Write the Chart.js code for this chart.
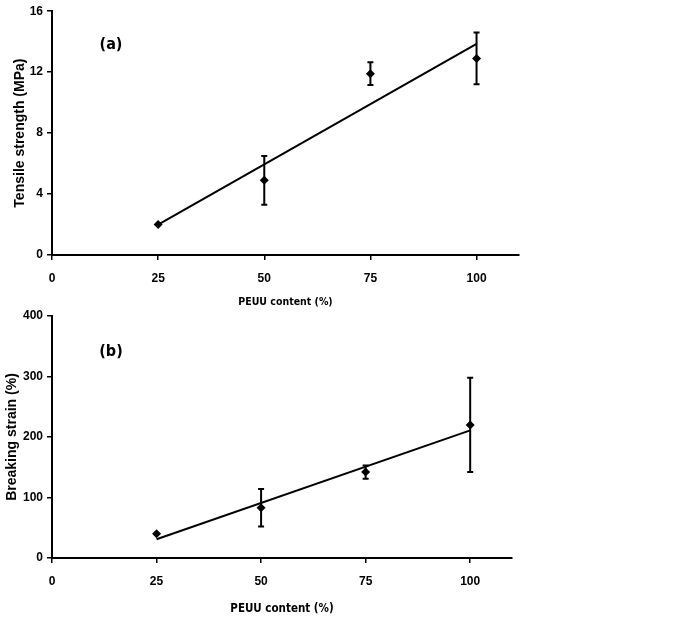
<!DOCTYPE html>
<html>
<head>
<meta charset="utf-8">
<script src="https://cdn.jsdelivr.net/npm/chart.js@4.4.1/dist/chart.umd.min.js"></script>
<style>
  body { margin: 0; background: #fff; }
  #wrap { position: relative; width: 685px; height: 620px; }
  .panel { position: absolute; left: 0; width: 685px; }
  #panelA { top: 0; height: 310px; }
  #panelB { top: 300px; height: 320px; }
</style>
</head>
<body>
<div id="wrap">
  <div class="panel" id="panelA"><canvas id="chartA"></canvas></div>
  <div class="panel" id="panelB"><canvas id="chartB"></canvas></div>
</div>
<script>
// PEUU content on the x axis, shared by both panels
const contentPct = [25, 50, 75, 100];
const xTicks = [0, 25, 50, 75, 100];

// (a) tensile strength, MPa
const tensileMPa = [2.0, 4.9, 11.9, 12.9];
const tensileErr = [0, 1.6, 0.75, 1.7];
const tensileFitX = [25, 100];
const tensileFit = [2.0, 13.85];

// (b) breaking strain, %
const strainPct = [40, 83, 142, 220];
const strainErr = [0, 31, 11, 78];
const strainFitX = [25, 100];
const strainFit = [31, 211];

const narrow = '"DejaVu Sans Condensed", sans-serif';
const wide = '"Liberation Sans", Arial, sans-serif';

// vertical error bars with caps, drawn through the chart's own scales
const errorBars = {
  id: 'errorBars',
  afterDatasetsDraw(chart, args, opts) {
    const { ctx, scales: { x, y } } = chart;
    ctx.save();
    ctx.strokeStyle = '#000';
    ctx.lineWidth = 2;
    opts.xs.forEach((xv, i) => {
      const e = opts.errs[i];
      if (!e) return;
      const px = x.getPixelForValue(xv);
      const top = y.getPixelForValue(opts.ys[i] + e);
      const bot = y.getPixelForValue(opts.ys[i] - e);
      ctx.beginPath();
      ctx.moveTo(px, top); ctx.lineTo(px, bot);
      ctx.moveTo(px - 3, top); ctx.lineTo(px + 3, top);
      ctx.moveTo(px - 3, bot); ctx.lineTo(px + 3, bot);
      ctx.stroke();
    });
    ctx.restore();
  }
};

// panel letter, e.g. "(a)"
const panelLabel = {
  id: 'panelLabel',
  afterDraw(chart, args, opts) {
    const { ctx, chartArea } = chart;
    ctx.save();
    ctx.font = 'bold 16px ' + narrow;
    ctx.fillStyle = '#000';
    ctx.textAlign = 'center';
    ctx.textBaseline = 'middle';
    ctx.fillText(opts.text, chartArea.left + 59, chartArea.top + opts.dy);
    ctx.restore();
  }
};

function makeChart(id, cfg) {
  const ctx = document.getElementById(id).getContext('2d');
  return new Chart(ctx, {
    type: 'scatter',
    data: {
      datasets: [
        {
          label: 'fit',
          data: cfg.fitX.map((x, i) => ({ x, y: cfg.fit[i] })),
          showLine: true,
          borderColor: '#000',
          borderWidth: 2,
          pointRadius: 0,
        },
        {
          label: 'data',
          data: contentPct.map((x, i) => ({ x, y: cfg.ys[i] })),
          pointStyle: 'rectRot',
          pointRadius: 4.5,
          backgroundColor: '#000',
          borderColor: '#000',
          borderWidth: 0,
        },
      ],
    },
    options: {
      responsive: true,
      maintainAspectRatio: false,
      animation: false,
      events: [],
      layout: { padding: { left: 0, right: cfg.padRight, top: cfg.padTop, bottom: 0 } },
      plugins: {
        legend: { display: false },
        tooltip: { enabled: false },
        errorBars: { xs: contentPct, ys: cfg.ys, errs: cfg.errs },
        panelLabel: { text: cfg.letter, dy: cfg.letterDy },
      },
      scales: {
        x: {
          type: 'linear',
          min: 0,
          max: 110,
          afterBuildTicks: (s) => { s.ticks = xTicks.map(v => ({ value: v })); },
          afterFit: (s) => { s.height = cfg.xHeight; },
          border: { color: '#000', width: 2 },
          grid: { drawOnChartArea: false, drawTicks: true, tickLength: 5, color: '#000', lineWidth: 1.5 },
          ticks: { color: '#000', padding: 11, maxRotation: 0, font: { family: wide, size: 12, weight: 'bold' } },
          title: {
            display: true,
            text: 'PEUU content (%)',
            color: '#000',
            padding: { top: 0, bottom: cfg.xTitlePad },
            font: { family: narrow, size: cfg.xTitleSize, weight: 'bold' },
          },
        },
        y: {
          min: 0,
          max: cfg.yMax,
          ticks: { stepSize: cfg.yStep, color: '#000', padding: 4, font: { family: wide, size: 12, weight: 'bold' } },
          afterFit: (s) => { s.width = 52; },
          border: { color: '#000', width: 2 },
          grid: { drawOnChartArea: false, drawTicks: true, tickLength: 5, color: '#000', lineWidth: 1.5 },
          title: {
            display: true,
            text: cfg.yTitle,
            color: '#000',
            padding: { top: cfg.yTitlePad, bottom: 0 },
            font: { family: wide, size: 14, weight: 'bold' },
          },
        },
      },
    },
    plugins: [errorBars, panelLabel],
  });
}

makeChart('chartA', {
  ys: tensileMPa, errs: tensileErr, fitX: tensileFitX, fit: tensileFit,
  yMax: 16, yStep: 4, yTitle: 'Tensile strength (MPa)', yTitlePad: 12,
  padRight: 166, padTop: 11, xHeight: 55, xTitleSize: 10.5, xTitlePad: 1,
  letter: '(a)', letterDy: 34,
});

makeChart('chartB', {
  ys: strainPct, errs: strainErr, fitX: strainFitX, fit: strainFit,
  yMax: 400, yStep: 100, yTitle: 'Breaking strain (%)', yTitlePad: 4,
  padRight: 173, padTop: 16, xHeight: 62, xTitleSize: 11.5, xTitlePad: 4,
  letter: '(b)', letterDy: 36,
});
</script>
</body>
</html>
